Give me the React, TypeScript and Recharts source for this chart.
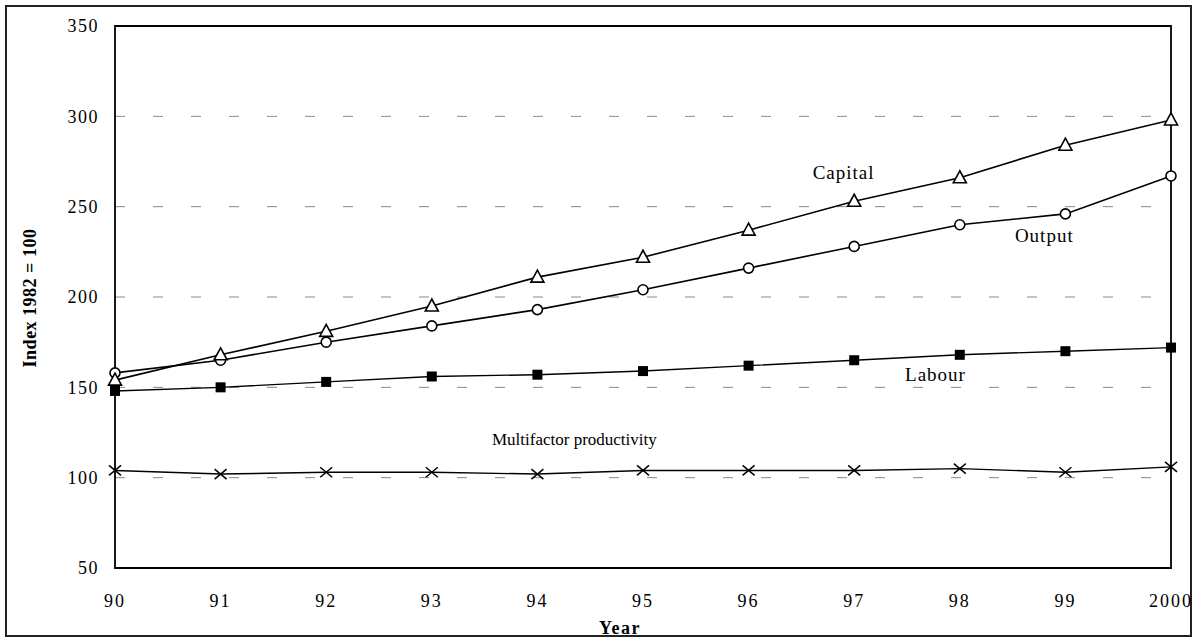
import {
  LineChart,
  Line,
  XAxis,
  YAxis,
  CartesianGrid,
  ReferenceArea,
  ReferenceDot,
} from "recharts";

const years = [1990, 1991, 1992, 1993, 1994, 1995, 1996, 1997, 1998, 1999, 2000];
const yearLabels = ["90", "91", "92", "93", "94", "95", "96", "97", "98", "99", "2000"];
const yTicks = [50, 100, 150, 200, 250, 300, 350];

const capital = [154, 168, 181, 195, 211, 222, 237, 253, 266, 284, 298];
const output = [158, 165, 175, 184, 193, 204, 216, 228, 240, 246, 267];
const labour = [148, 150, 153, 156, 157, 159, 162, 165, 168, 170, 172];
const mfp = [104, 102, 103, 103, 102, 104, 104, 104, 105, 103, 106];

// annotation text: [label, year, value]
const notes: [string, number, number][] = [
  ["Capital", 1996.9, 269],
  ["Output", 1998.8, 234],
  ["Labour", 1997.77, 157],
  ["Multifactor productivity", 1994.35, 121],
];

const data = years.map((year, i) => ({
  year,
  capital: capital[i],
  output: output[i],
  labour: labour[i],
  mfp: mfp[i],
}));

const FONT = '"Liberation Serif", "Times New Roman", serif';

function Triangle(props: any) {
  const { cx, cy, index } = props;
  return (
    <polygon
      key={`t-${index}`}
      points={`${cx},${cy - 7} ${cx - 6.5},${cy + 5} ${cx + 6.5},${cy + 5}`}
      fill="#fff"
      stroke="#000"
      strokeWidth={1.6}
    />
  );
}

function Circle(props: any) {
  const { cx, cy, index } = props;
  return <circle key={`c-${index}`} cx={cx} cy={cy} r={5} fill="#fff" stroke="#000" strokeWidth={1.6} />;
}

function Square(props: any) {
  const { cx, cy, index } = props;
  return <rect key={`s-${index}`} x={cx - 5} y={cy - 5} width={10} height={10} fill="#000" />;
}

function Cross(props: any) {
  const { cx, cy, index } = props;
  return (
    <g key={`x-${index}`} stroke="#000" strokeWidth={1.5}>
      <line x1={cx - 6} y1={cy - 5} x2={cx + 6} y2={cy + 5} />
      <line x1={cx - 6} y1={cy + 5} x2={cx + 6} y2={cy - 5} />
    </g>
  );
}

export default function App() {
  return (
    <div style={{ position: "absolute", left: 0, top: 0, width: 1195, height: 641, background: "#fff" }}>
      <div
        style={{
          position: "absolute",
          left: 5,
          top: 5,
          width: 1183,
          height: 628,
          border: "2px solid #222",
        }}
      />
      <LineChart
        width={1195}
        height={641}
        data={data}
        margin={{ top: 26, right: 24, left: 0, bottom: 13 }}
        style={{ fontFamily: FONT }}
      >
        <CartesianGrid vertical={false} stroke="#888" strokeDasharray="10 28" />
        <XAxis
          dataKey="year"
          type="number"
          domain={[1990, 2000]}
          ticks={years}
          tickFormatter={(v) => yearLabels[years.indexOf(v)]}
          height={60}
          tickSize={0}
          tickMargin={26}
          axisLine={false}
          tick={{ fill: "#000", fontSize: 18, fontFamily: FONT, letterSpacing: 2 }}
        />
        <YAxis
          domain={[50, 350]}
          ticks={yTicks}
          width={115}
          tickSize={0}
          tickMargin={16}
          axisLine={false}
          tick={{ fill: "#000", fontSize: 18, fontFamily: FONT, letterSpacing: 1.5 }}
        />
        <ReferenceArea
          x1={1990}
          x2={2000}
          y1={50}
          y2={350}
          fill="none"
          stroke="#000"
          strokeWidth={1.8}
          ifOverflow="visible"
        />
        <Line dataKey="mfp" stroke="#000" strokeWidth={1.4} dot={Cross} isAnimationActive={false} />
        <Line dataKey="labour" stroke="#000" strokeWidth={1.4} dot={Square} isAnimationActive={false} />
        <Line dataKey="output" stroke="#000" strokeWidth={1.6} dot={Circle} isAnimationActive={false} />
        <Line dataKey="capital" stroke="#000" strokeWidth={1.6} dot={Triangle} isAnimationActive={false} />
        {notes.map(([label, x, y]) => (
          <ReferenceDot
            key={label}
            x={x}
            y={y}
            ifOverflow="visible"
            shape={(p: any) => (
              <text
                x={p.cx}
                y={p.cy}
                textAnchor="middle"
                dominantBaseline="central"
                fontSize={label.length > 10 ? 17 : 19}
                letterSpacing={label.length > 10 ? 0 : 1}
                fontFamily={FONT}
                fill="#000"
              >
                {label}
              </text>
            )}
          />
        ))}
      </LineChart>
      <div
        style={{
          position: "absolute",
          left: 30,
          top: 298,
          transform: "translate(-50%, -50%) rotate(-90deg)",
          whiteSpace: "nowrap",
          fontFamily: FONT,
          fontWeight: "bold",
          fontSize: 18,
          letterSpacing: 0.5,
        }}
      >
        Index 1982 = 100
      </div>
      <div
        style={{
          position: "absolute",
          left: 620,
          top: 628,
          transform: "translate(-50%, -50%)",
          fontFamily: FONT,
          fontWeight: "bold",
          fontSize: 18,
          letterSpacing: 1.5,
        }}
      >
        Year
      </div>
    </div>
  );
}
